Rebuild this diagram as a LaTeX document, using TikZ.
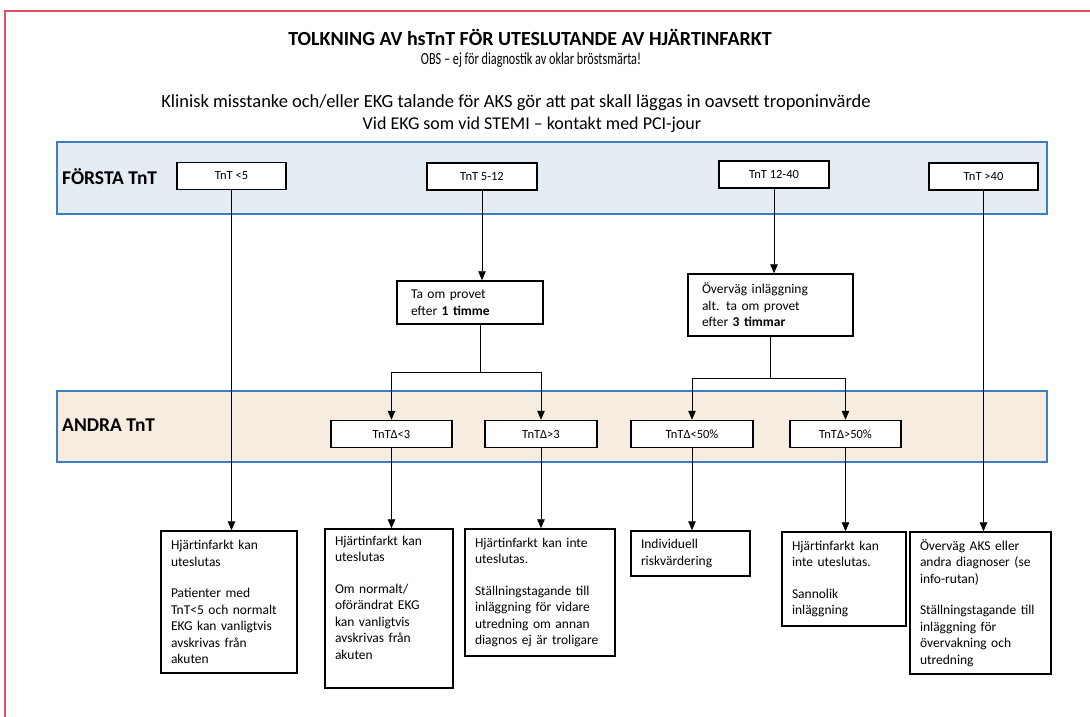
\documentclass[tikz,border=0pt]{standalone}
\usepackage{graphicx}
\usepackage{fontspec}
\setmainfont{Carlito}
\usetikzlibrary{arrows.meta}
\definecolor{ramkrod}{RGB}{225,80,100}
\definecolor{bandbla}{RGB}{60,125,195}
\definecolor{forsta}{RGB}{228,236,244}
\definecolor{andra}{RGB}{246,236,224}
\begin{document}
\begin{tikzpicture}[x=1pt,y=-1pt,font=\fontsize{13.5}{16.5}\selectfont,
  ruta/.style={draw,line width=1.5pt,fill=white,align=left,inner xsep=10pt},
  tnt/.style={draw,line width=1.5pt,fill=white,minimum height=27pt,font=\fontsize{12.5}{15}\selectfont},
  band/.style={draw=bandbla,line width=1.5pt},
  bandtext/.style={anchor=west,inner sep=0pt,font=\fontsize{19.5}{21}\selectfont\bfseries},
  pil/.style={line width=0.9pt,-{Triangle[length=9pt,width=7.5pt]}},
  led/.style={line width=0.9pt}]

\useasboundingbox (0,0) rectangle (1090,717);
\draw[ramkrod,line width=1.2pt] (5,717) -- (5,11) -- (1090,11);

% rubriker
\node[font=\fontsize{20}{22}\selectfont\bfseries] (titel) at (530,37) {TOLKNING AV hsTnT FÖR UTESLUTANDE AV HJÄRTINFARKT};
\node[font=\fontsize{17}{19}\selectfont] (obs) at (531,60) {\scalebox{0.72}[1]{OBS – ej för diagnostik av oklar bröstsmärta!}};
\node[font=\fontsize{18.5}{20}\selectfont] (klinisk) at (516,103) {Klinisk misstanke och/eller EKG talande för AKS gör att pat skall läggas in oavsett troponinvärde};
\node[font=\fontsize{18}{20}\selectfont] (stemi) at (532,125) {Vid EKG som vid STEMI – kontakt med PCI-jour};

% band
\draw[band,fill=forsta] (57,142) rectangle (1047,214);
\draw[band,fill=andra] (57,391) rectangle (1047,462);
\node[bandtext] (forstaTnT) at (62,177) {FÖRSTA TnT};
\node[bandtext] (andraTnT) at (62,425) {ANDRA TnT};

% forsta TnT
\node[tnt,minimum width=109pt] (t5) at (231.5,176) {TnT <5};
\node[tnt,minimum width=110pt] (t512) at (482,176.5) {TnT 5-12};
\node[tnt,minimum width=110pt] (t1240) at (774,174.5) {TnT 12-40};
\node[tnt,minimum width=109pt] (t40) at (983.5,176.5) {TnT >40};

\node[ruta,inner xsep=14pt,text width=118pt,minimum height=43pt] (taom) at (470,302.5)
  {Ta om provet\\ efter \textbf{1 timme}};
\node[ruta,inner xsep=14pt,text width=137pt,minimum height=62pt] (overvag) at (770.5,305)
  {Överväg inläggning\\ alt. ta om provet\\ efter \textbf{3 timmar}};

% andra TnT
\node[tnt,minimum width=121pt] (d3) at (391.5,434) {TnTΔ<3};
\node[tnt,minimum width=112pt] (d3p) at (541,434) {TnTΔ>3};
\node[tnt,minimum width=122pt] (d50) at (692,434) {TnTΔ<50\%};
\node[tnt,minimum width=111pt] (d50p) at (845.5,434) {TnTΔ>50\%};

% utfall
\node[ruta,text width=116pt,minimum height=142pt] (b1) at (229,602)
  {Hjärtinfarkt kan\\ uteslutas\\[15pt] Patienter med\\ TnT<5 och normalt\\ EKG kan vanligtvis\\ avskrivas från\\ akuten};
\node[ruta,text width=108pt,minimum height=159pt] (b2) at (389,608.5)
  {Hjärtinfarkt kan\\ uteslutas\\[15pt] Om normalt/\\ oförändrat EKG\\ kan vanligtvis\\ avskrivas från\\ akuten\rule[-22pt]{0pt}{0pt}};
\node[ruta,text width=130pt,minimum height=127pt] (b3) at (540,592.5)
  {Hjärtinfarkt kan inte\\ uteslutas.\\[15pt] Ställningstagande till\\ inläggning för vidare\\ utredning om annan\\ diagnos ej är troligare};
\node[ruta,text width=99pt,minimum height=45pt] (b4) at (690.5,553.5)
  {Individuell\\ riskvärdering};
\node[ruta,text width=104pt,minimum height=94pt] (b5) at (844,579)
  {Hjärtinfarkt kan\\ inte uteslutas.\\[15pt] Sannolik\\ inläggning};
\node[ruta,text width=121pt,minimum height=142pt] (b6) at (980.5,603)
  {Överväg AKS eller\\ andra diagnoser (se\\ info-rutan)\\[15pt] Ställningstagande till\\ inläggning för\\ övervakning och\\ utredning};

% pilar
\draw[pil] (t5.south) -- (t5.south |- b1.north);
\draw[pil] (t512.south) -- (t512.south |- taom.north);
\draw[pil] (t1240.south) -- (t1240.south |- overvag.north);
\draw[pil] (t40.south) -- (t40.south |- b6.north);

\coordinate (gren1) at (480,372);
\coordinate (gren2) at (770.5,378);
\draw[led] (taom.south -| gren1) -- (gren1);
\draw[pil] (gren1) -| (d3);
\draw[pil] (gren1) -| (d3p);
\draw[led] (overvag.south) -- (gren2);
\draw[pil] (gren2) -| (d50);
\draw[pil] (gren2) -| (d50p);

\draw[pil] (d3.south) -- (d3.south |- b2.north);
\draw[pil] (d3p.south) -- (d3p.south |- b3.north);
\draw[pil] (d50.south) -- (d50.south |- b4.north);
\draw[pil] (d50p.south) -- (d50p.south |- b5.north);
\end{tikzpicture}
\end{document}
